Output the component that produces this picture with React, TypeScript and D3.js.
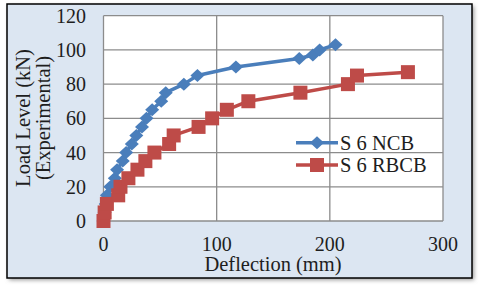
import React from "react";
import * as d3 from "d3";

const ncbX = [0, 1, 2, 3, 6, 10, 12, 17, 20, 25, 29, 34, 38, 43, 51, 55, 71, 83, 117, 173, 185, 191, 205];
const ncbY = [0, 5, 10, 15, 20, 25, 30, 35, 40, 45, 50, 55, 60, 65, 70, 75, 80, 85, 90, 95, 97, 100, 103];
const rbcbX = [0, 1, 3, 13, 15, 22, 30, 37, 45, 58, 62, 84, 96, 109, 128, 174, 216, 224, 269];
const rbcbY = [0, 5, 10, 15, 20, 25, 30, 35, 40, 45, 50, 55, 60, 65, 70, 75, 80, 85, 87];
const xTicks = [0, 100, 200, 300];
const yTicks = [0, 20, 40, 60, 80, 100, 120];
const seriesNames = ["S 6 NCB", "S 6 RBCB"];

const W = 480, H = 288;
const PL = 103.5, PR = 443, PT = 15.7, PB = 221;
const BLUE = "#4A7EBB", RED = "#BE4B48";
const FONT = "Liberation Serif, DejaVu Serif, serif";
const TS: React.CSSProperties = { fontFamily: FONT };
const TXT = "#1E1E1E";

export default function App() {
  const x = d3.scaleLinear().domain([0, 300]).range([PL, PR]);
  const y = d3.scaleLinear().domain([0, 120]).range([PB, PT]);
  const line = d3.line<[number, number]>().x(d => x(d[0])).y(d => y(d[1]));
  const ncb: [number, number][] = ncbX.map((v, i) => [v, ncbY[i]]);
  const rbcb: [number, number][] = rbcbX.map((v, i) => [v, rbcbY[i]]);
  const diamond = (cx: number, cy: number) => `M${cx},${cy - 6.5}L${cx + 7},${cy}L${cx},${cy + 6.5}L${cx - 7},${cy}Z`;
  const sq = 14;
  return (
    <svg width={W} height={H} style={{ position: "absolute", left: 0, top: 0 }}>
      <defs>
        <filter id="sh" x="-10%" y="-10%" width="120%" height="120%">
          <feGaussianBlur stdDeviation="2" />
        </filter>
      </defs>
      <rect x={9} y={6} width={465} height={274} fill="#999" filter="url(#sh)" />
      <rect x={7} y={4} width={465} height={274} fill="#DCE6F2" stroke="#000" strokeWidth={1.5} />
      <rect x={PL} y={PT} width={PR - PL} height={PB - PT} fill="#fff" />
      {yTicks.map(t => (
        <line key={"gy" + t} x1={PL} x2={PR} y1={y(t)} y2={y(t)} stroke="#8C8C8C" strokeWidth={1.3} />
      ))}
      {xTicks.map(t => (
        <line key={"gx" + t} x1={x(t)} x2={x(t)} y1={PT} y2={PB} stroke="#8C8C8C" strokeWidth={1.3} />
      ))}
      {yTicks.map(t => (
        <text key={"ty" + t} x={86} y={y(t)} dy="0.35em" textAnchor="end" style={TS} fontSize={20} fill={TXT}>{t}</text>
      ))}
      {xTicks.map(t => (
        <text key={"tx" + t} x={x(t)} y={251} textAnchor="middle" style={TS} fontSize={20} fill={TXT}>{t}</text>
      ))}
      <text x={273} y={271} textAnchor="middle" style={TS} fontSize={20.5} fill={TXT}>Deflection (mm)</text>
      <text transform={`translate(29.5,118) rotate(-90)`} textAnchor="middle" style={TS} fontSize={20.5} fill={TXT}>Load Level (kN)</text>
      <text transform={`translate(50,118) rotate(-90)`} textAnchor="middle" style={TS} fontSize={20.5} fill={TXT}>(Experimental)</text>

      <path d={line(ncb) || ""} fill="none" stroke={BLUE} strokeWidth={3.5} strokeLinejoin="round" />
      {ncb.map((d, i) => (
        <path key={"nm" + i} d={diamond(x(d[0]), y(d[1]))} fill={BLUE} />
      ))}
      <path d={line(rbcb) || ""} fill="none" stroke={RED} strokeWidth={3.5} strokeLinejoin="round" />
      {rbcb.map((d, i) => (
        <rect key={"rm" + i} x={x(d[0]) - sq / 2} y={y(d[1]) - sq / 2} width={sq} height={sq} fill={RED} />
      ))}

      <line x1={296} x2={338} y1={142.7} y2={142.7} stroke={BLUE} strokeWidth={3.5} />
      <path d={diamond(317, 142.7)} fill={BLUE} />
      <text x={340} y={142.7} dy="0.35em" style={TS} fontSize={20.5} fill={TXT}>{seriesNames[0]}</text>
      <line x1={296} x2={338} y1={165} y2={165} stroke={RED} strokeWidth={3.5} />
      <rect x={317 - sq / 2} y={165 - sq / 2} width={sq} height={sq} fill={RED} />
      <text x={340} y={165} dy="0.35em" style={TS} fontSize={20.5} fill={TXT}>{seriesNames[1]}</text>
    </svg>
  );
}
